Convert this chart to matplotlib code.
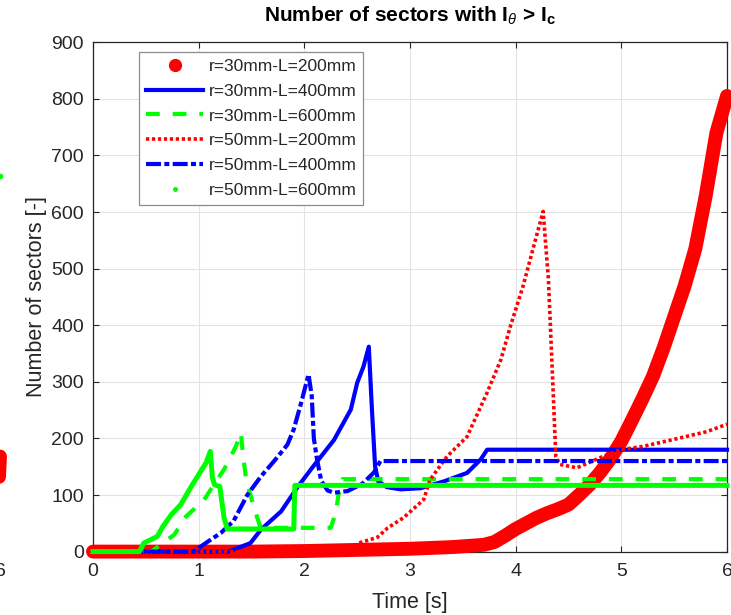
import matplotlib
matplotlib.use("Agg")
import matplotlib.pyplot as plt
from matplotlib.lines import Line2D

plt.rcParams["font.family"] = ["Liberation Sans", "DejaVu Sans"]
plt.rcParams["mathtext.fontset"] = "custom"
plt.rcParams["mathtext.rm"] = "Liberation Sans"
plt.rcParams["mathtext.it"] = "Liberation Sans:italic"
plt.rcParams["mathtext.bf"] = "Liberation Sans:bold"

RED = "#ff0000"
BLUE = "#0000ff"
GREEN = "#00ff00"
DARK = "#262626"

# r=30mm - L=200mm
t_30_200 = [0, 1.5, 2.0, 2.5, 3.0, 3.4, 3.7, 3.8, 3.9, 4.0, 4.1, 4.2, 4.3, 4.4, 4.5,
            4.6, 4.7, 4.8, 4.9, 5.0, 5.1, 5.2, 5.3, 5.4, 5.5, 5.6, 5.7, 5.8, 5.9, 6.0]
n_30_200 = [0, 0, 1, 3, 5, 8, 12, 17, 28, 40, 50, 60, 68, 75, 83,
            100, 118, 140, 165, 195, 232, 270, 310, 360, 415, 470, 535, 630, 740, 805]

# r=30mm - L=400mm
t_30_400 = [0, 1.28, 1.49, 1.59, 1.78, 1.94, 2.09, 2.28, 2.44, 2.50, 2.56, 2.61, 2.64,
            2.67, 2.70, 2.78, 2.91, 3.1, 3.32, 3.54, 3.67, 3.73, 6.0]
n_30_400 = [0, 0, 15, 39, 71, 115, 152, 197, 251, 298, 327, 362, 250,
            150, 124, 114, 110, 112, 124, 139, 163, 180, 180]

# r=30mm - L=600mm
t_30_600 = [0, 0.55, 0.61, 0.77, 0.88, 1.05, 1.15, 1.24, 1.35, 1.40, 1.42, 1.45, 1.52,
            1.58, 1.65, 2.25, 2.30, 2.33, 2.36, 6.0]
n_30_600 = [0, 0, 8, 30, 62, 91, 120, 145, 185, 210, 170, 127, 80,
            45, 42, 42, 70, 110, 128, 128]

# r=50mm - L=200mm
t_50_200 = [0, 2.3, 2.47, 2.53, 2.69, 2.79, 2.94, 3.13, 3.19, 3.35, 3.54, 3.73, 3.86,
            3.95, 4.07, 4.17, 4.26, 4.31, 4.35, 4.38, 4.42, 4.58, 4.80, 4.99, 5.21,
            5.56, 5.81, 6.0]
n_50_200 = [0, 0, 9, 16, 25, 42, 60, 92, 127, 168, 203, 281, 339,
            398, 469, 539, 601, 481, 304, 168, 154, 148, 166, 180, 186,
            201, 212, 225]

# r=50mm - L=400mm
t_50_400 = [0, 0.95, 1.09, 1.21, 1.33, 1.46, 1.59, 1.71, 1.78, 1.84, 1.90, 1.97, 2.04,
            2.07, 2.09, 2.12, 2.16, 2.22, 2.28, 2.41, 2.55, 2.66, 2.72, 6.0]
n_50_400 = [0, 0, 18, 33, 54, 100, 133, 159, 175, 189, 216, 263, 313,
            275, 200, 163, 125, 108, 104, 107, 120, 140, 160, 160]

# r=50mm - L=600mm
t_50_600 = [0, 0.44, 0.48, 0.61, 0.66, 0.74, 0.83, 0.93, 0.99, 1.07, 1.11, 1.13, 1.15,
            1.20, 1.24, 1.27, 1.90, 1.91, 6.0]
n_50_600 = [0, 0, 15, 27, 44, 65, 83, 115, 133, 157, 177, 131, 118,
            115, 60, 40, 40, 117, 117]

# end of the neighbouring panel on the left
t_left = [5.96, 5.99, 6.0]
n_left_red = [85, 130, 168]
t_left_dot = [6.0]
n_left_dot = [664]

labels = ["r=30mm-L=200mm", "r=30mm-L=400mm", "r=30mm-L=600mm",
          "r=50mm-L=200mm", "r=50mm-L=400mm", "r=50mm-L=600mm"]

W, H = 731, 615
fig = plt.figure(figsize=(W / 100, H / 100), dpi=100)
x0, x1, y0, y1 = 93, 727, 42.2, 551.6
ax = fig.add_axes([x0 / W, 1 - y1 / H, (x1 - x0) / W, (y1 - y0) / H])

kw = dict(clip_on=False, zorder=3)
ax.plot(t_30_200, n_30_200, color=RED, lw=10, solid_capstyle="round",
        solid_joinstyle="round", **kw)
l2, = ax.plot(t_30_400, n_30_400, color=BLUE, lw=3, **kw)
l3, = ax.plot(t_30_600, n_30_600, color=GREEN, lw=3, dashes=(3.3, 3.1), **kw)
l4, = ax.plot(t_50_200, n_50_200, color=RED, lw=2.6, dashes=(0.9, 0.75), **kw)
l5, = ax.plot(t_50_400, n_50_400, color=BLUE, lw=3, dashes=(3.6, 0.8, 1.2, 0.8), **kw)
ax.plot(t_50_600, n_50_600, color=GREEN, lw=3.6, **kw)

ax.set_xlim(0, 6)
ax.set_ylim(0, 900)
ax.set_xticks(range(0, 7))
ax.set_yticks(range(0, 901, 100))
ax.grid(True, color="#e3e3e3", lw=0.8)
ax.set_axisbelow(True)
ax.tick_params(direction="in", top=True, right=True, length=4.5, width=0.8,
               colors=DARK, labelsize=14)
ax.tick_params(axis="x", pad=8)
ax.tick_params(axis="y", pad=6.5)
for s in ax.spines.values():
    s.set_color(DARK)
    s.set_linewidth(0.9)

ax.set_xlabel("Time [s]", fontsize=15.5, color=DARK)
ax.set_ylabel("Number of sectors [-]", fontsize=15.5, color=DARK)
ax.xaxis.set_label_coords(0.5, -0.08)
ax.yaxis.set_label_coords(-0.073, 0.5)
ax.set_title(r"Number of sectors with I$_{\theta}$ > I$_{\mathbf{c}}$",
             fontsize=15, fontweight="bold", pad=15)

h1 = Line2D([], [], color=RED, marker="o", ms=8.5, ls="none")
h6 = Line2D([], [], color=GREEN, marker="o", ms=2.6, ls="none")
leg = ax.legend([h1, l2, l3, l4, l5, h6], labels, loc="upper left",
                bbox_to_anchor=(46 / 634, (y1 - 52) / (y1 - y0)), borderaxespad=0,
                fontsize=12.5, handlelength=3.3, handletextpad=0.3, borderpad=0.4,
                labelspacing=0.55, fancybox=False, framealpha=1, numpoints=1)
leg.get_frame().set_edgecolor("#8c8c8c")
leg.get_frame().set_linewidth(0.9)
for txt in leg.get_texts():
    txt.set_color(DARK)

# neighbouring panel, only its right edge falls inside the figure
axl = fig.add_axes([-(x1 - x0) / W, 1 - y1 / H, (x1 - x0) / W, (y1 - y0) / H])
axl.set_xlim(0, 6)
axl.set_ylim(0, 900)
axl.plot(t_left, n_left_red, color=RED, lw=10, solid_capstyle="round", clip_on=False)
axl.plot(t_left_dot, n_left_dot, color=GREEN, marker="o", ms=3, ls="none", clip_on=False)
axl.set_xticks([6])
axl.set_yticks([])
axl.tick_params(axis="x", length=0, pad=8, colors=DARK, labelsize=14)
for s in axl.spines.values():
    s.set_visible(False)
axl.patch.set_visible(False)

fig.savefig("out.png", dpi=100)
